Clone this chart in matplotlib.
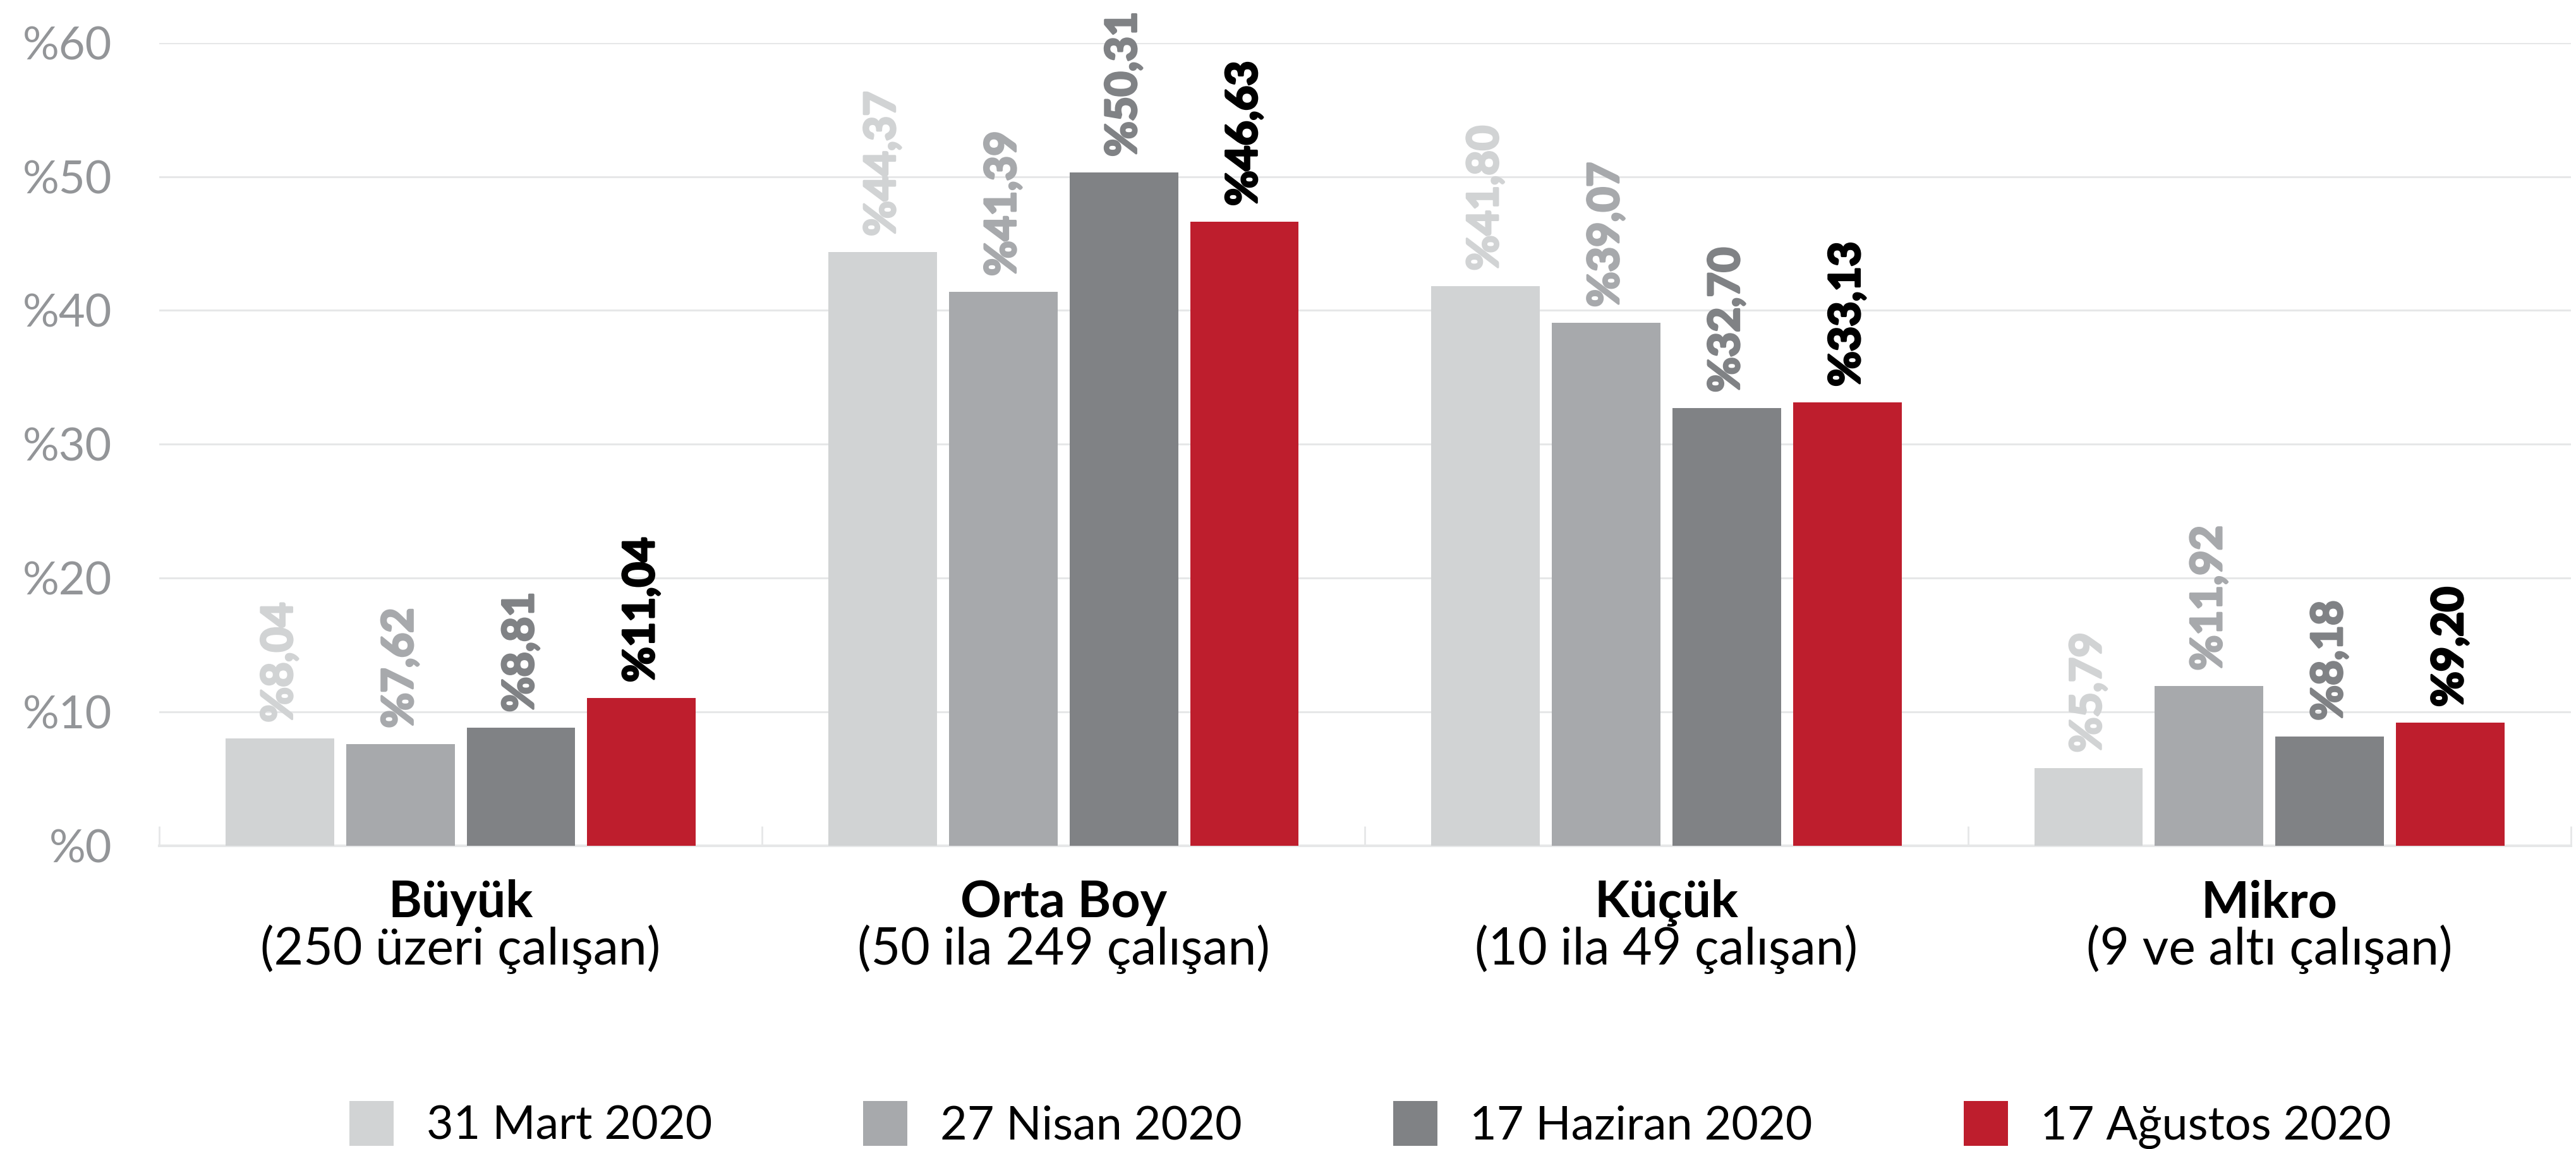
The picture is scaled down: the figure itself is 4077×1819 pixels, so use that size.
import matplotlib
matplotlib.use('Agg')
import matplotlib.pyplot as plt
import matplotlib.transforms as mtransforms
import matplotlib.patheffects as pe
from matplotlib.patches import Patch
import numpy as np

plt.rcParams['font.family'] = ['Lato', 'DejaVu Sans']

# data
groups = ['Büyük', 'Orta Boy', 'Küçük', 'Mikro']
group_notes = ['(250 üzeri çalışan)', '(50 ila 249 çalışan)',
               '(10 ila 49 çalışan)', '(9 ve altı çalışan)']
series_names = ['31 Mart 2020', '27 Nisan 2020', '17 Haziran 2020', '17 Ağustos 2020']
mart = [8.04, 44.37, 41.80, 5.79]
nisan = [7.62, 41.39, 39.07, 11.92]
haziran = [8.81, 50.31, 32.70, 8.18]
agustos = [11.04, 46.63, 33.13, 9.20]
yticks = [0, 10, 20, 30, 40, 50, 60]

series = [mart, nisan, haziran, agustos]
bar_colors = ['#d1d3d4', '#a7a9ac', '#808285', '#be1e2d']
label_colors = ['#d1d3d4', '#a7a9ac', '#808285', '#000000']
grid_col = '#e6e7e8'

fig = plt.figure(figsize=(40.77, 18.19), dpi=100)
ax = fig.add_axes([0.0618, 0.2639, 0.9362, 0.6989])

x = np.arange(len(groups))
step, width = 0.2, 0.18
for k, (vals, bc, lc) in enumerate(zip(series, bar_colors, label_colors)):
    pos = x + (k - 1.5) * step
    ax.bar(pos, vals, width=width, color=bc, zorder=3)
    for p, v in zip(pos, vals):
        ax.annotate('%' + f'{v:.2f}'.replace('.', ','), (p, v),
                    xytext=(0, 18), textcoords='offset points',
                    rotation=90, ha='center', va='bottom',
                    fontsize=49, fontweight='bold', color=lc,
                    path_effects=[pe.withStroke(linewidth=2.5, foreground=lc)],
                    annotation_clip=False)

ax.set_xlim(-0.5, len(groups) - 0.5)
ax.set_ylim(0, 60)
ax.set_yticks(yticks)
ax.set_yticklabels(['%' + str(t) for t in yticks], fontsize=52,
                   color='#939598')
ax.tick_params(axis='y', length=0, pad=54)
ax.set_xticks(np.arange(len(groups) + 1) - 0.5)
ax.set_xticklabels([])
ax.tick_params(axis='x', direction='in', length=22, width=2, color=grid_col)
ax.grid(axis='y', color=grid_col, linewidth=2.2, zorder=0)
for s in ['top', 'right', 'left']:
    ax.spines[s].set_visible(False)
ax.spines['bottom'].set_color(grid_col)
ax.spines['bottom'].set_linewidth(3)

trans = mtransforms.blended_transform_factory(ax.transData, ax.transAxes)
for i, (g, n) in enumerate(zip(groups, group_notes)):
    ax.text(i, -0.071, g, transform=trans, ha='center', va='center',
            fontsize=58, fontweight='bold', color='black')
    ax.text(i, -0.129, n, transform=trans, ha='center', va='center',
            fontsize=58, color='black')

handles = [Patch(facecolor=c, edgecolor='none') for c in bar_colors]
fig.legend(handles, series_names, loc='center', bbox_to_anchor=(0.532, 0.021),
           ncol=4, frameon=False, fontsize=53, handlelength=0.95,
           handleheight=1.1, handletextpad=0.7, columnspacing=3.25)

fig.savefig('out.png', dpi=100)
